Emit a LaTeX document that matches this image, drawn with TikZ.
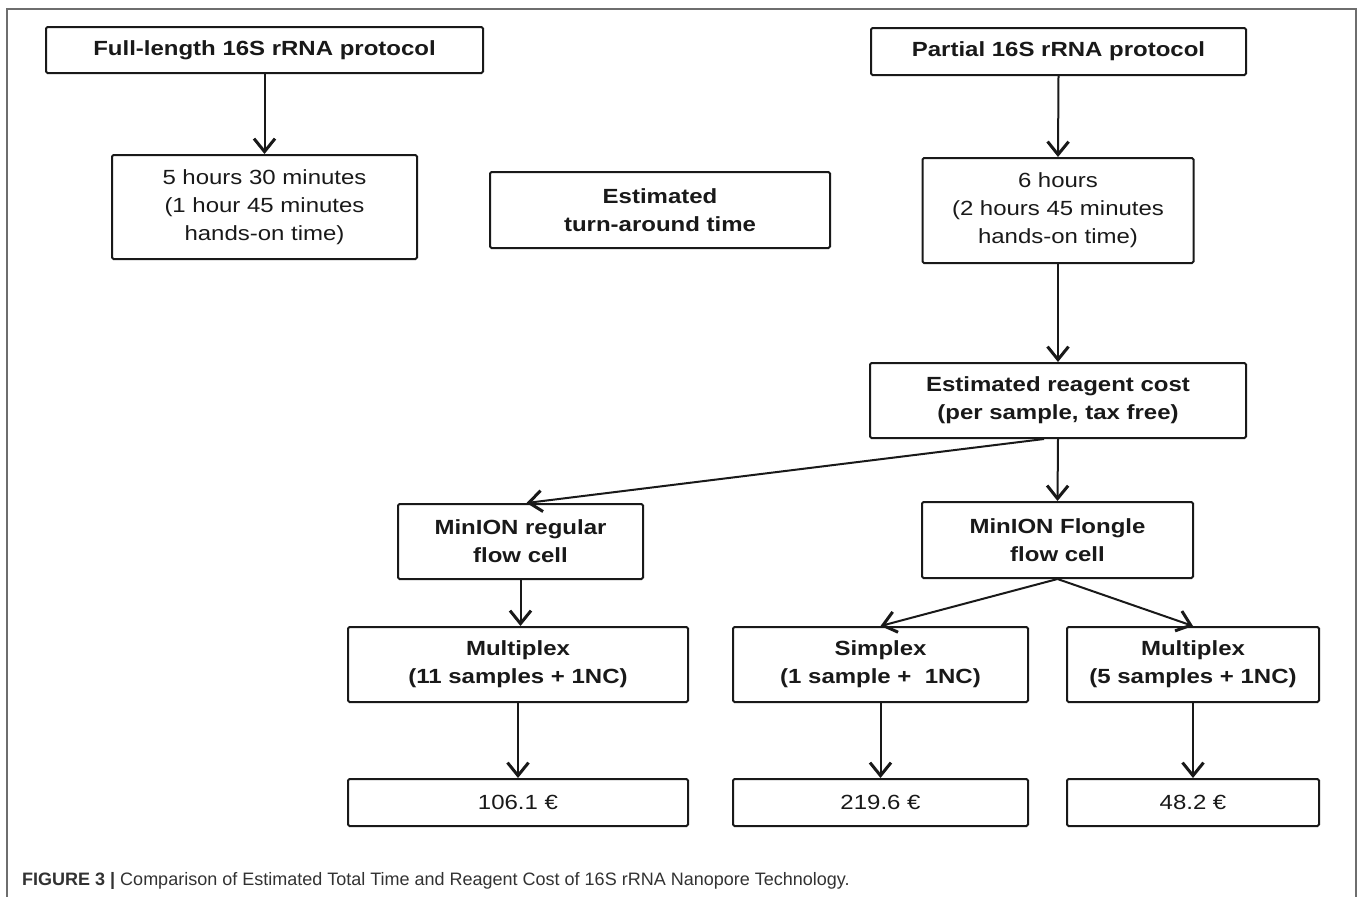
\documentclass[tikz,border=0pt]{standalone}
\usepackage{fontspec}
\setmainfont[FakeStretch=1.17]{Liberation Sans}
\newfontfamily\capfont{Liberation Sans}
\usetikzlibrary{arrows.meta}
\definecolor{framegray}{RGB}{110,110,110}
\definecolor{ink}{RGB}{25,25,25}
\definecolor{capink}{RGB}{50,50,50}
\tikzset{
  box/.style={draw=ink, line width=2pt, rounded corners=1.5pt, align=center, inner sep=0pt,
    font=\fontsize{20.5}{28}\selectfont, text=ink},
  boldbox/.style={box, font=\fontsize{20.5}{28}\selectfont\bfseries},
  conn/.style={draw=ink, line width=2pt, -{Straight Barb[length=13pt,width=21pt,line width=3pt]}},
}
\begin{document}
\begin{tikzpicture}[x=1pt,y=-1pt]
\useasboundingbox (0,0) rectangle (1358,897);
\draw[framegray, line width=1.5pt] (7,897) -- (7,9) -- (1356,9) -- (1356,897);

\node[boldbox, minimum width=437pt, minimum height=46pt] (full) at (264.5,50) {Full-length 16S rRNA protocol};
\node[box, minimum width=305pt, minimum height=104pt] (t5) at (264.5,207) {5 hours 30 minutes\\(1 hour 45 minutes\\hands-on time)};
\node[boldbox, minimum width=340pt, minimum height=76pt] (tat) at (660,210) {Estimated\\turn-around time};
\node[boldbox, minimum width=375pt, minimum height=47pt] (partial) at (1058.5,51.5) {Partial 16S rRNA protocol};
\node[box, minimum width=271pt, minimum height=105pt] (t6) at (1058,210.5) {6 hours\\(2 hours 45 minutes\\hands-on time)};
\node[boldbox, minimum width=376pt, minimum height=75pt] (reagent) at (1058,400.5) {Estimated reagent cost\\(per sample, tax free)};
\node[boldbox, minimum width=245pt, minimum height=75pt] (reg) at (520.5,541.5) {MinION regular\\flow cell};
\node[boldbox, minimum width=271pt, minimum height=76pt] (flo) at (1057.5,540) {MinION Flongle\\flow cell};
\node[boldbox, minimum width=340pt, minimum height=75pt] (m11) at (518,664.5) {Multiplex\\(11 samples + 1NC)};
\node[boldbox, minimum width=295pt, minimum height=75pt] (sim) at (880.5,664.5) {Simplex\\(1 sample +\ \ 1NC)};
\node[boldbox, minimum width=252pt, minimum height=75pt] (m5) at (1193,664.5) {Multiplex\\(5 samples + 1NC)};
\node[box, minimum width=340pt, minimum height=47pt] (c1) at (518,802.5) {106.1 €};
\node[box, minimum width=295pt, minimum height=47pt] (c2) at (880.5,802.5) {219.6 €};
\node[box, minimum width=252pt, minimum height=47pt] (c3) at (1193,802.5) {48.2 €};

\node[anchor=base west, inner sep=0pt, font=\capfont\fontsize{18}{22}\selectfont, text=capink] (cap) at (22,885)
  {\textbf{FIGURE 3 |} Comparison of Estimated Total Time and Reagent Cost of 16S rRNA Nanopore Technology.};

\draw[conn] (full.south) -- (t5.north);
\draw[conn] (partial.south) -- (t6.north);
\draw[conn] (t6.south) -- (reagent.north);
\draw[conn] ([xshift=-14pt]reagent.south) -- ([xshift=6pt]reg.north);
\draw[conn] (reagent.south) -- (flo.north);
\draw[conn] (reg.south) -- (reg.south |- m11.north);
\draw[conn] (flo.south) -- (sim.north);
\draw[conn] (flo.south) -- (m5.north);
\draw[conn] (m11.south) -- (c1.north);
\draw[conn] (sim.south) -- (c2.north);
\draw[conn] (m5.south) -- (c3.north);
\end{tikzpicture}
\end{document}
